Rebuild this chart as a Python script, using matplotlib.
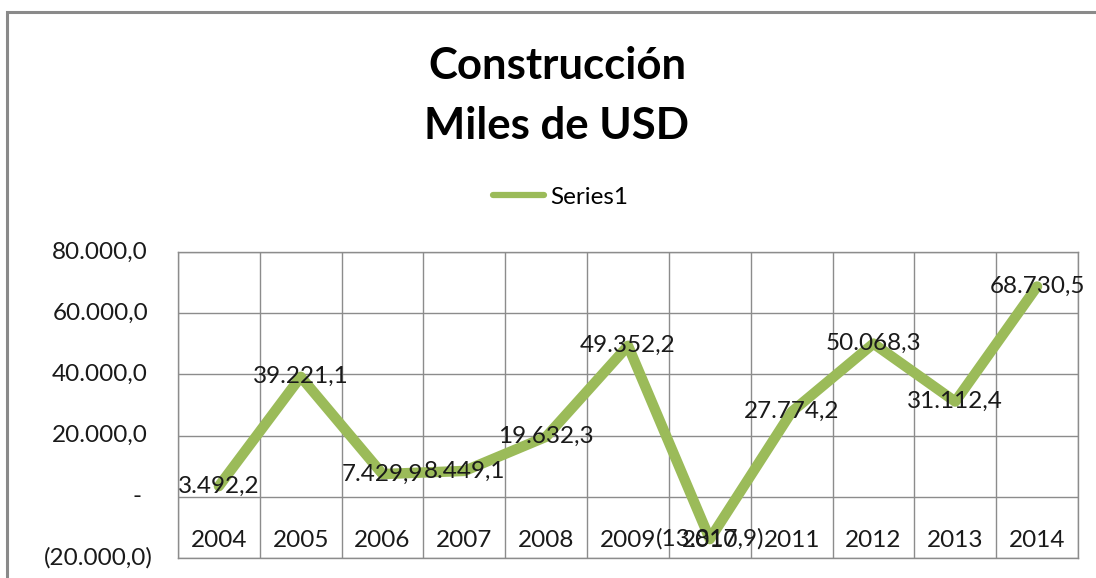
import matplotlib
matplotlib.use("Agg")
import matplotlib.pyplot as plt
import matplotlib.transforms as mtransforms
from matplotlib.patches import Rectangle

categories = ["2004", "2005", "2006", "2007", "2008", "2009", "2010", "2011", "2012", "2013", "2014"]
values = [3492.2, 39221.1, 7429.9, 8449.1, 19632.3, 49352.2, -13817.9, 27774.2, 50068.3, 31112.4, 68730.5]
yticks = [-20000, 0, 20000, 40000, 60000, 80000]
title = "Construcción\nMiles de USD"
series_name = "Series1"

FONT = "Lato"
GREEN = "#9BBB59"
GRID = "#8C8C8C"
TXT = "#1a1a1a"
FS = 17.5


def fmt(v):
    if abs(v) < 1e-9:
        return "-"
    s = f"{abs(v):,.1f}".replace(",", "X").replace(".", ",").replace("X", ".")
    return f"({s})" if v < 0 else s


fig = plt.figure(figsize=(10.96, 5.78), dpi=100)
W, H = 1096, 578
ax = fig.add_axes([178 / W, 1 - 558 / H, (1078 - 178) / W, (558 - 252) / H])

x = list(range(len(categories)))
ax.plot(x, values, color=GREEN, lw=7.5, solid_capstyle="round", solid_joinstyle="round", zorder=3,
        label=series_name)

ax.set_xlim(-0.5, len(categories) - 0.5)
ax.set_ylim(yticks[0], yticks[-1])
ax.set_yticks(yticks)
ax.set_xticks([])
ax.tick_params(axis="y", length=0, labelleft=False)
ax.grid(axis="y", color=GRID, lw=1)
for k in range(len(categories) + 1):
    ax.axvline(k - 0.5, color=GRID, lw=1, zorder=1)
for sp in ax.spines.values():
    sp.set_color(GRID)
    sp.set_linewidth(1)

# y tick labels (accounting-style alignment)
ytrans = mtransforms.blended_transform_factory(ax.transAxes, ax.transData)
for t in yticks:
    if t > 0:
        dx = -30
    elif t == 0:
        dx = -36
    else:
        dx = -25
    tr = mtransforms.offset_copy(ytrans, fig=fig, x=dx, y=0, units="dots")
    ax.text(0, t, fmt(t), transform=tr, ha="right", va="center", fontsize=FS,
            family=FONT, color=TXT, clip_on=False)

# category labels placed below the zero axis
for i, c in enumerate(categories):
    tr = mtransforms.offset_copy(ax.transData, fig=fig, x=0, y=-44, units="dots")
    ax.text(i, 0, c, transform=tr, ha="center", va="center", fontsize=FS,
            family=FONT, color=TXT, zorder=4)

# data labels centered on points
for i, v in enumerate(values):
    ax.text(i, v, fmt(v), ha="center", va="center", fontsize=FS, family=FONT,
            color=TXT, zorder=5)

fig.text(557 / W, 1 - 96 / H, title, ha="center", va="center", fontsize=31.5,
         fontweight="bold", family=FONT, linespacing=1.62, color="black")

leg = ax.legend(loc="center", bbox_to_anchor=(561 / W, 1 - 197 / H), bbox_transform=fig.transFigure,
                frameon=False, prop={"family": FONT, "size": FS}, handlelength=2.1, handletextpad=0.25)
for l in leg.get_lines():
    l.set_linewidth(4.5)

fig.patches.append(Rectangle((7 / W, -0.5), 2.0, 1 - 12 / H + 0.5, transform=fig.transFigure,
                             fill=False, edgecolor="#8A8A8A", lw=2.2, clip_on=False))

fig.savefig("out.png", dpi=100)
